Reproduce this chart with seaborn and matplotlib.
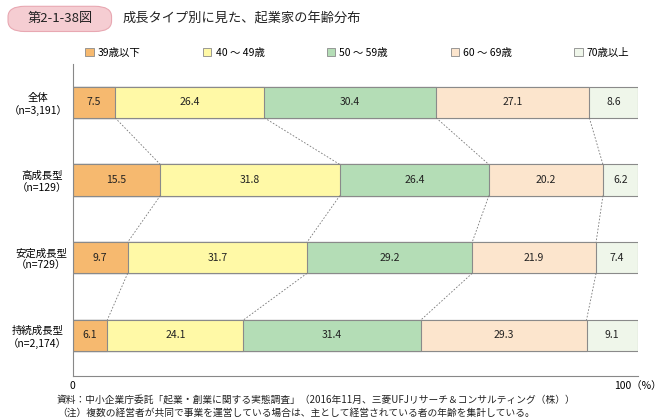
import matplotlib
matplotlib.use("Agg")
import matplotlib.pyplot as plt
import seaborn as sns
import numpy as np
import pandas as pd
from matplotlib.patches import FancyBboxPatch, Patch

plt.rcParams["font.family"] = "Noto Sans CJK JP"

groups = ["全体\n（n=3,191）", "高成長型\n（n=129）", "安定成長型\n（n=729）", "持続成長型\n（n=2,174）"]
series = ["39歳以下", "40 ～ 49歳", "50 ～ 59歳", "60 ～ 69歳", "70歳以上"]
v39 = [7.5, 15.5, 9.7, 6.1]
v40 = [26.4, 31.8, 31.7, 24.1]
v50 = [30.4, 26.4, 29.2, 31.4]
v60 = [27.1, 20.2, 21.9, 29.3]
v70 = [8.6, 6.2, 7.4, 9.1]
colors = ["#F6B96F", "#FFF9A6", "#B4DDB6", "#FCE5CD", "#EFF6EA"]

vals = np.array([v39, v40, v50, v60, v70])
total = vals.sum(axis=0)
vals = vals / total * 100
cum = np.cumsum(vals, axis=0)

fig = plt.figure(figsize=(6.68, 4.2), dpi=100)
ax = fig.add_axes([0.109, 0.105, 0.846, 0.743])

for k in range(4, -1, -1):
    df = pd.DataFrame({"g": groups, "x": cum[k]})
    sns.barplot(data=df, y="g", x="x", orient="h", color=colors[k], saturation=1,
                edgecolor="#8a8a8a", linewidth=0.8, width=0.4, ax=ax)
if ax.get_legend() is not None:
    ax.get_legend().remove()

raw = np.array([v39, v40, v50, v60, v70])
for i in range(4):
    for k in range(5):
        c = cum[k][i] - vals[k][i] / 2
        ax.text(c, i, f"{raw[k][i]:.1f}", ha="center", va="center", fontsize=7.5, color="#222")

for i in range(3):
    for k in range(4):
        ax.plot([cum[k][i], cum[k][i + 1]], [i + 0.2, i + 0.8], ls=(0, (2, 2)), color="#777", lw=0.6)

ax.set_xlim(0, 100)
ax.set_ylim(3.52, -0.495)
ax.set_xticks([0, 100])
ax.set_xticklabels(["0", "100（%）"], fontsize=7.5)
ax.set_xlabel("")
ax.set_ylabel("")
ax.tick_params(axis="y", length=0, labelsize=7.5, pad=4)
ax.tick_params(axis="x", length=0, pad=4)
for t in ax.get_yticklabels():
    t.set_multialignment("center")
for s in ["top", "right"]:
    ax.spines[s].set_visible(False)
for s in ["left", "bottom"]:
    ax.spines[s].set_color("#888")
    ax.spines[s].set_linewidth(0.8)

handles = [Patch(facecolor=c, edgecolor="#8a8a8a", lw=0.6) for c in colors]
fig.legend(handles, series, loc="center", bbox_to_anchor=(0.535, 0.875), ncol=5,
           frameon=False, fontsize=7.5, handlelength=0.8, handleheight=0.8, columnspacing=6.0, handletextpad=0.4)

box = FancyBboxPatch((0.012, 0.925), 0.155, 0.06, boxstyle="round,pad=0,rounding_size=0.025",
                     transform=fig.transFigure, facecolor="#F5CDD2", edgecolor="#E8A8B2", lw=0.8)
fig.patches.append(box)
fig.text(0.09, 0.955, "第2-1-38図", ha="center", va="center", fontsize=9.5, color="#222")
fig.text(0.183, 0.955, "成長タイプ別に見た、起業家の年齢分布", ha="left", va="center", fontsize=9.5, color="#222")
fig.text(0.085, 0.048, "資料：中小企業庁委託「起業・創業に関する実態調査」（2016年11月、三菱UFJリサーチ＆コンサルティング（株））",
         fontsize=7, color="#222", va="center")
fig.text(0.085, 0.017, "（注）複数の経営者が共同で事業を運営している場合は、主として経営されている者の年齢を集計している。",
         fontsize=7, color="#222", va="center")

fig.savefig("out.png", dpi=100)
